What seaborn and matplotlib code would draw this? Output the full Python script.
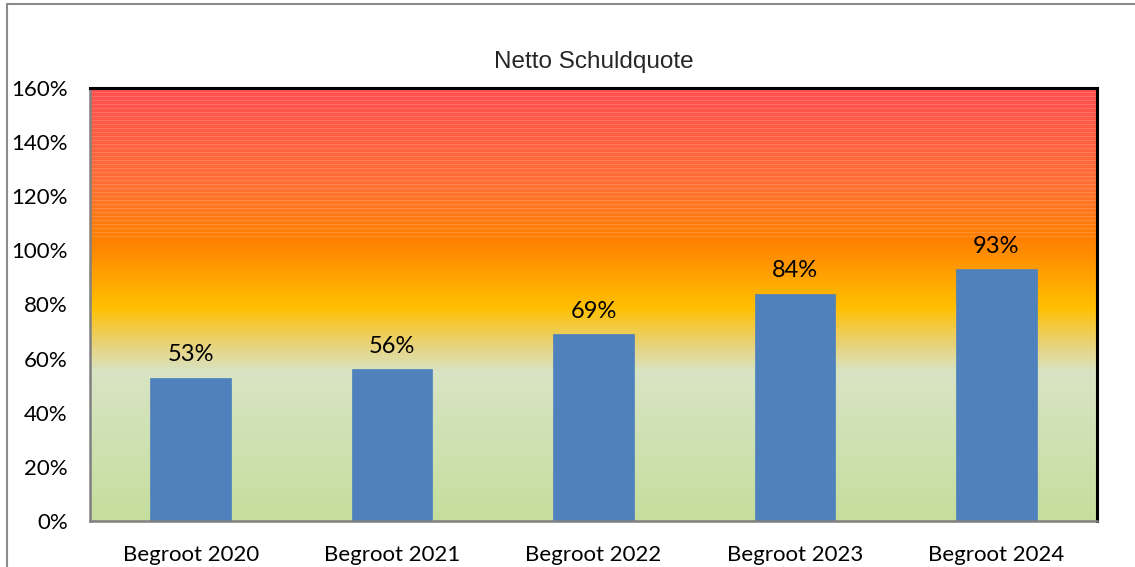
import numpy as np
import pandas as pd
import matplotlib
matplotlib.use("Agg")
import matplotlib.pyplot as plt
from matplotlib.colors import LinearSegmentedColormap
from matplotlib.lines import Line2D
import seaborn as sns

categories = ["Begroot 2020", "Begroot 2021", "Begroot 2022", "Begroot 2023", "Begroot 2024"]
values = [53, 56, 69, 84, 93]
yticks = [0, 20, 40, 60, 80, 100, 120, 140, 160]
title = "Netto Schuldquote"

df = pd.DataFrame({"cat": categories, "val": values})

sns.set_theme(style="white")
plt.rcParams["font.family"] = ["Lato", "DejaVu Sans"]

fig = plt.figure(figsize=(11.35, 5.67), dpi=100)
ax = fig.add_axes([90/1135, 1-521/567, (1097-90)/1135, (521-88)/567])

# background gradient
stops = [(0, "#c5de9d"), (55/160, "#d8e4c4"), (65/160, "#e8d37a"),
         (79/160, "#ffc000"), (104/160, "#ff8000"), (125/160, "#ff7035"),
         (1.0, "#ff4f50")]
cmap = LinearSegmentedColormap.from_list("bg", stops)
nrows = 433
vals = np.linspace(0, 1, nrows)
img = cmap(vals)[:, :3]
rows_val = vals * 160
stripe = (np.arange(nrows) % 4 == 0) & (rows_val > 104)
img[stripe] = img[stripe] * 0.85 + 0.15
img = img[:, None, :]
ax.imshow(img, extent=(-0.5, 4.5, 0, 160), aspect="auto", origin="lower",
          interpolation="nearest", zorder=0)

sns.barplot(data=df, x="cat", y="val", color="#4f81bd", saturation=1,
            width=0.4, ax=ax, zorder=2, edgecolor="#4f81bd", linewidth=0.5)

for i, v in enumerate(values):
    ax.text(i, v + 4.5, f"{v}%", ha="center", va="bottom", fontsize=17,
            color="#000000", zorder=3)

ax.set_xlim(-0.5, 4.5)
ax.set_ylim(0, 160)
ax.set_yticks(yticks)
ax.set_yticklabels([f"{t}%" for t in yticks], fontsize=16)
ax.set_xticks(range(len(categories)))
ax.set_xticklabels(categories, fontsize=16)
ax.set_xlabel("")
ax.set_ylabel("")
ax.grid(False)

ax.tick_params(axis="x", which="major", length=0, pad=17)
ax.set_xticks(np.arange(-0.5, 5, 1), minor=True)
ax.tick_params(axis="x", which="minor", length=6, width=1.5, color="#808080", direction="out")
ax.tick_params(axis="y", which="major", length=6, width=1.5, color="#808080",
               direction="out", pad=10)
ax.tick_params(axis="both", colors="#808080", labelcolor="#000000")

for s in ["left", "bottom"]:
    ax.spines[s].set_color("#808080")
    ax.spines[s].set_linewidth(1.8)
    ax.spines[s].set_visible(True)
for s in ["top", "right"]:
    ax.spines[s].set_color("#000000")
    ax.spines[s].set_linewidth(2.2)
    ax.spines[s].set_visible(True)

fig.text((90+1097)/2/1135, 1-62/567, title, ha="center", va="center",
         fontsize=17.5, family=["Liberation Sans", "DejaVu Sans"])

# chart area border (left and top)
fig.add_artist(Line2D([7/1135, 7/1135], [0, 1-4/567], color="#8c8c8c", lw=1.5,
                      transform=fig.transFigure))
fig.add_artist(Line2D([7/1135, 1], [1-4/567, 1-4/567], color="#8c8c8c", lw=1.5,
                      transform=fig.transFigure))

fig.savefig("out.png", dpi=100, facecolor="white")
